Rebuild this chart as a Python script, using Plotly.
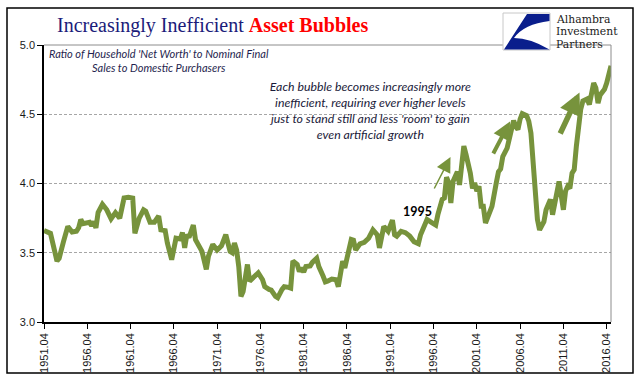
import plotly.graph_objects as go

# ---- data ----
quarters = [
 "1951Q4","1952Q2","1952Q3","1953Q2","1953Q3","1954Q1","1954Q3","1955Q1","1955Q3","1955Q4",
 "1956Q1","1956Q2","1956Q4","1957Q1","1957Q2","1957Q3","1957Q4","1958Q1","1958Q3","1959Q1",
 "1959Q3","1960Q1","1960Q3","1961Q1","1961Q3","1962Q1","1962Q2","1962Q3","1962Q4","1963Q2",
 "1963Q3","1964Q1","1964Q3","1965Q1","1965Q2","1965Q4","1966Q1","1966Q3","1967Q1","1967Q3",
 "1967Q4","1968Q1","1968Q2","1968Q3","1969Q1","1969Q2","1970Q1","1970Q3","1970Q4","1971Q2",
 "1971Q4","1972Q2","1972Q4","1973Q2","1973Q3","1973Q4","1974Q1","1974Q2","1974Q3","1974Q4",
 "1975Q2","1975Q3","1976Q1","1976Q3","1977Q1","1977Q2","1977Q4","1978Q1","1978Q3","1978Q4",
 "1979Q2","1979Q3","1980Q1","1980Q2","1980Q3","1981Q1","1981Q2","1981Q3","1981Q4","1982Q1",
 "1982Q3","1982Q4","1983Q2","1983Q3","1984Q1","1984Q2","1984Q3","1985Q1","1985Q3","1985Q4",
 "1986Q2","1986Q3","1986Q4","1987Q2","1987Q3","1987Q4","1988Q2","1988Q4","1989Q2","1989Q4",
 "1990Q2","1990Q3","1991Q1","1991Q3","1992Q1","1992Q2","1992Q3","1993Q1","1993Q3","1994Q1",
 "1994Q3","1995Q1","1995Q2","1995Q4","1996Q1","1996Q3","1997Q1","1997Q2","1997Q4","1998Q1",
 "1998Q2","1998Q3","1998Q4","1999Q1","1999Q2","1999Q3","1999Q4","2000Q1","2000Q2","2000Q3",
 "2000Q4","2001Q1","2001Q2","2001Q3","2001Q4","2002Q1","2002Q2","2002Q3","2002Q4","2003Q1",
 "2003Q2","2003Q3","2004Q1","2004Q2","2004Q3","2004Q4","2005Q2","2005Q3","2005Q4","2006Q1",
 "2006Q2","2006Q3","2006Q4","2007Q1","2007Q3","2007Q4","2008Q1","2008Q2","2008Q3","2008Q4",
 "2009Q1","2009Q3","2009Q4","2010Q2","2010Q3","2011Q1","2011Q2","2011Q4","2012Q1","2012Q2",
 "2012Q3","2012Q4","2013Q1","2013Q2","2013Q3","2013Q4","2014Q1","2014Q3","2014Q4","2015Q1",
 "2015Q2","2015Q3","2015Q4","2016Q1","2016Q2","2016Q3","2016Q4","2017Q1","2017Q2",
]
ratio = [
 3.66,3.65,3.64,3.44,3.46,3.58,3.69,3.65,3.655,3.68,
 3.74,3.71,3.72,3.72,3.695,3.725,3.68,3.79,3.85,3.81,
 3.745,3.79,3.75,3.895,3.90,3.895,3.64,3.715,3.75,3.81,
 3.80,3.72,3.72,3.765,3.665,3.66,3.57,3.45,3.605,3.60,
 3.645,3.535,3.63,3.61,3.70,3.595,3.51,3.38,3.475,3.56,
 3.52,3.55,3.63,3.51,3.50,3.57,3.52,3.40,3.185,3.22,
 3.415,3.295,3.32,3.355,3.305,3.255,3.235,3.23,3.185,3.175,
 3.235,3.255,3.25,3.245,3.44,3.415,3.365,3.39,3.36,3.40,
 3.405,3.43,3.46,3.40,3.33,3.29,3.295,3.31,3.305,3.255,
 3.44,3.39,3.46,3.595,3.59,3.52,3.565,3.575,3.605,3.665,
 3.63,3.535,3.69,3.655,3.735,3.63,3.62,3.655,3.645,3.62,
 3.58,3.565,3.63,3.715,3.74,3.72,3.70,3.775,3.885,3.895,
 4.045,4.005,3.86,4.015,4.05,4.085,3.99,4.18,4.27,4.21,
 4.15,4.075,3.965,4.005,3.945,3.98,3.835,3.835,3.715,3.76,
 3.81,3.835,4.005,4.085,4.105,4.195,4.255,4.315,4.39,4.455,
 4.41,4.39,4.465,4.505,4.49,4.45,4.365,4.18,3.93,3.74,
 3.665,3.725,3.81,3.885,3.775,3.945,4.015,3.81,3.945,3.98,
 3.965,4.075,4.10,4.27,4.41,4.535,4.595,4.61,4.57,4.665,
 4.725,4.69,4.58,4.64,4.665,4.68,4.725,4.775,4.85,
]
tick_labels = ["1951.04","1956.04","1961.04","1966.04","1971.04","1976.04","1981.04",
               "1986.04","1991.04","1996.04","2001.04","2006.04","2011.04","2016.04"]
tick_years = [1951.75 + 5 * i for i in range(len(tick_labels))]
logo_lines = ["Alhambra", "Investment", "Partners"]

def qnum(s):
    return int(s[:4]) + (int(s[5]) - 1) / 4.0

xs = [qnum(s) for s in quarters]

GREEN = "#77933C"
SERIF = "Liberation Serif, Times New Roman, Noto Serif, DejaVu Serif, serif"
W, H = 644, 375
ML, MR, MT, MB = 44, 33, 45, 53
PW, PH = W - ML - MR, H - MT - MB

def px(x):
    return (x - ML) / PW

def py(y):
    return (H - MB - y) / PH

fig = go.Figure()
fig.add_trace(go.Scatter(x=xs, y=ratio, mode="lines",
                         line=dict(color=GREEN, width=5), hoverinfo="skip"))

shapes = []
shapes.append(dict(type="rect", xref="paper", yref="paper", x0=px(7), x1=px(633), y0=py(373), y1=py(8),
                   line=dict(color="black", width=1.5), layer="below"))
shapes.append(dict(type="line", xref="paper", yref="paper", x0=0, x1=1, y0=1, y1=1,
                   line=dict(color="#8C8C8C", width=1)))
shapes.append(dict(type="line", xref="paper", yref="paper", x0=1, x1=1, y0=0, y1=1,
                   line=dict(color="#8C8C8C", width=1)))
shapes.append(dict(type="rect", xref="paper", yref="paper", x0=px(503), x1=px(550), y0=py(50), y1=py(13),
                   fillcolor="white", line=dict(color="#C8C8C8", width=1)))
path = (f"M {px(527)},{py(14)} L {px(549.5)},{py(14)} L {px(549.5)},{py(21)} "
        f"Q {px(524)},{py(24)} {px(514)},{py(38)} Q {px(530)},{py(38)} {px(549.5)},{py(49.5)} "
        f"L {px(504)},{py(49.5)} Z")
shapes.append(dict(type="path", xref="paper", yref="paper", path=path,
                   fillcolor="#0A1E8C", line=dict(width=0)))

ann = []
ann.append(dict(xref="paper", yref="paper", x=px(55), y=py(26), xanchor="left", yanchor="middle",
                showarrow=False,
                text="<span style='color:#1B1B7A'>Increasingly Inefficient </span>"
                     "<b><span style='color:#FF0000'>Asset Bubbles</span></b>",
                font=dict(family=SERIF, size=20)))
for i, line in enumerate(logo_lines):
    ann.append(dict(xref="paper", yref="paper", x=px(554), y=py(19 + 12.7 * i), xanchor="left",
                    yanchor="middle", showarrow=False, text=line,
                    font=dict(family="DejaVu Serif", size=10.8, color="#1A1A1A")))
ann.append(dict(xref="paper", yref="paper", x=px(159), y=py(60), xanchor="center", yanchor="middle",
                showarrow=False, align="center",
                text="<i>Ratio of Household 'Net Worth' to Nominal Final<br>Sales to Domestic Purchasers</i>",
                font=dict(family="Lato", size=11, color="#1F1F4F")))
ann.append(dict(xref="paper", yref="paper", x=px(370), y=py(110), xanchor="center", yanchor="middle",
                showarrow=False, align="center",
                text="<i>Each bubble becomes increasingly more<br>inefficient, requiring ever higher levels<br>"
                     "just to stand still and less 'room' to gain<br>even artificial growth</i>",
                font=dict(family="Lato", size=12.3, color="#1A1A3A")))
ann.append(dict(xref="paper", yref="paper", x=px(417), y=py(211), xanchor="center", yanchor="middle",
                showarrow=False, text="<b>1995</b>",
                font=dict(family="Lato", size=12.5, color="black")))
for (tx, ty, hx, hy, w, s) in [(433.5, 190, 450.5, 157, 1.5, 2.0),
                               (492.5, 155, 510, 121.5, 4, 0.9),
                               (559.5, 135, 579.5, 92.5, 5.5, 0.8)]:
    ann.append(dict(xref="paper", yref="paper", x=px(hx), y=py(hy), ax=tx - hx, ay=ty - hy,
                    axref="pixel", ayref="pixel", text="", showarrow=True, arrowhead=2,
                    arrowwidth=w, arrowsize=s, arrowcolor=GREEN, standoff=0, startstandoff=0))

fig.update_layout(
    template="none",
    width=W, height=H,
    margin=dict(l=ML, r=MR, t=MT, b=MB, pad=0),
    paper_bgcolor="white", plot_bgcolor="white",
    showlegend=False,
    shapes=shapes, annotations=ann,
    xaxis=dict(range=[1951.75, 2017.25], tickvals=tick_years, ticktext=tick_labels,
               tickangle=-90, showgrid=False, zeroline=False, showline=True, automargin=False,
               linecolor="black", linewidth=1.5, ticks="outside", ticklen=5, tickcolor="black",
               tickfont=dict(family="Liberation Sans", size=11, color="#1A1A1A")),
    yaxis=dict(range=[3.0, 5.0], dtick=0.5, tickformat=".1f", showgrid=True, automargin=False,
               gridcolor="#A6A6A6", griddash="3px,2px", gridwidth=1, zeroline=False,
               showline=True, linecolor="black", linewidth=1.5, ticks="outside", ticklen=5,
               tickcolor="black", tickfont=dict(family="Liberation Sans", size=11, color="#1A1A1A")),
)
fig.write_html("out.html", config={"displayModeBar": False},
               post_script="document.body.style.margin='0px';document.body.style.padding='0px';")
